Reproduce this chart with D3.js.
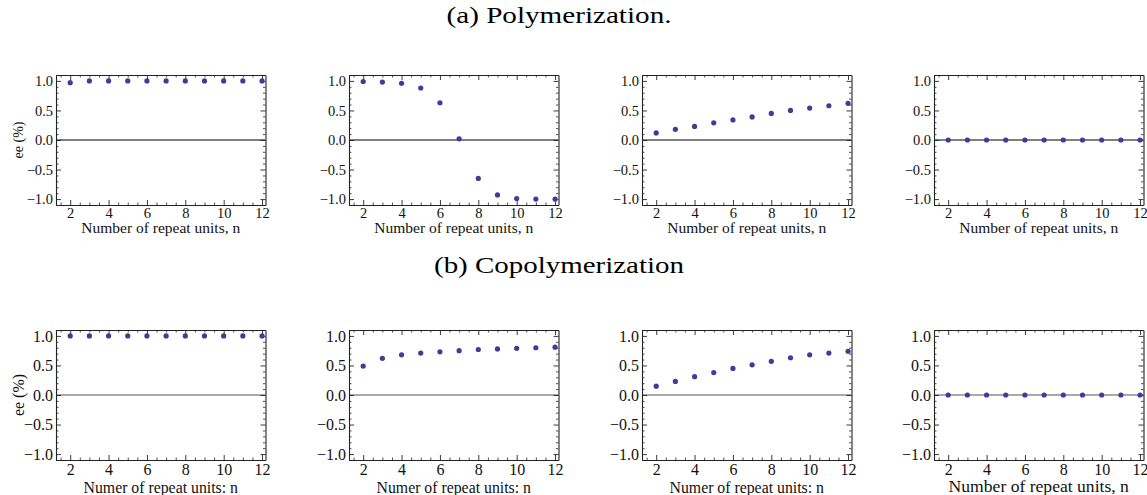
<!DOCTYPE html>
<html>
<head>
<meta charset="utf-8">
<script src="https://cdn.jsdelivr.net/npm/d3@7"></script>
<style>
  html, body { margin: 0; padding: 0; background: #fff; }
  svg { display: block; }
</style>
</head>
<body>
<div id="chart"></div>
<script>
// --- data ---
const repeatUnits = [2, 3, 4, 5, 6, 7, 8, 9, 10, 11, 12];

const polyA = [0.97, 1.0, 1.0, 1.0, 1.0, 1.0, 1.0, 1.0, 1.0, 1.0, 1.0];
const polyB = [0.99, 0.98, 0.96, 0.88, 0.63, 0.02, -0.65, -0.93, -0.99, -1.0, -1.0];
const polyC = [0.12, 0.18, 0.23, 0.29, 0.34, 0.39, 0.45, 0.50, 0.54, 0.58, 0.62];
const polyD = [0, 0, 0, 0, 0, 0, 0, 0, 0, 0, 0];

const copolyA = [1.0, 1.0, 1.0, 1.0, 1.0, 1.0, 1.0, 1.0, 1.0, 1.0, 1.0];
const copolyB = [0.49, 0.62, 0.68, 0.71, 0.73, 0.75, 0.77, 0.78, 0.79, 0.80, 0.81];
const copolyC = [0.15, 0.23, 0.31, 0.38, 0.45, 0.51, 0.57, 0.63, 0.68, 0.71, 0.74];
const copolyD = [0, 0, 0, 0, 0, 0, 0, 0, 0, 0, 0];

const rowTitles = ["(a) Polymerization.", "(b) Copolymerization"];
const xLabelsTop = ["Number of repeat units, n", "Number of repeat units, n",
                    "Number of repeat units, n", "Number of repeat units, n"];
const xLabelsBottom = ["Numer of repeat units: n", "Numer of repeat units: n",
                       "Numer of repeat units: n", "Number of repeat units, n"];
const yLabel = "ee (%)";
const xMajorTicks = [2, 4, 6, 8, 10, 12];
const yMajorTicks = [-1, -0.5, 0, 0.5, 1];

// --- layout ---
const W = 1147, H = 495;
const panelLefts = [56, 349, 642, 934];
const panelW = 209.5, panelH = 130;
const rows = [
  { top: 75, title: rowTitles[0], titleY: 15, series: [polyA, polyB, polyC, polyD],
    xLabels: xLabelsTop, tickFont: 14.5, labelFonts: [15.5, 15.5, 15.5, 15.5], labelDy: [22, 22, 22, 22], xPad: 3,
    zeroColor: "#000", titleLen: 225 },
  { top: 330, title: rowTitles[1], titleY: 265, series: [copolyA, copolyB, copolyC, copolyD],
    xLabels: xLabelsBottom, tickFont: 16, labelFonts: [15.8, 15.8, 15.8, 17.6], labelDy: [27, 27, 27, 25.5], xPad: 4,
    zeroColor: "#555", titleLen: 250 }
];
const dotColor = "#3d3d99";
const serif = "'Liberation Serif', 'Times New Roman', Times, serif";

const svg = d3.select("#chart").append("svg")
  .attr("width", W).attr("height", H)
  .attr("viewBox", [0, 0, W, H]);

const fmt = d => (d < 0 ? "\u2212" : "") + Math.abs(d).toFixed(1);

// minor tick positions
const xMinor = d3.range(1.5, 12.01, 0.5).filter(v => !xMajorTicks.includes(v));
const yMinor = d3.range(-11, 12).map(v => v / 10).filter(v => !yMajorTicks.some(m => Math.abs(m - v) < 1e-6));

rows.forEach((row, ri) => {
  // row caption
  svg.append("text")
    .attr("x", 559).attr("y", row.titleY)
    .attr("text-anchor", "middle")
    .attr("dominant-baseline", "central")
    .attr("textLength", row.titleLen)
    .attr("lengthAdjust", "spacingAndGlyphs")
    .style("font-family", serif)
    .style("font-size", "23px")
    .style("fill", "#000")
    .text(row.title);

  row.series.forEach((values, pi) => {
    const x0 = panelLefts[pi], y0 = row.top;
    const x = d3.scaleLinear().domain([1.26, 12.18]).range([x0, x0 + panelW]);
    const y = d3.scaleLinear().domain([-1.1, 1.1]).range([y0 + panelH, y0]);
    const g = svg.append("g");

    // zero axis line
    g.append("line")
      .attr("x1", x0).attr("x2", x0 + panelW)
      .attr("y1", y(0)).attr("y2", y(0))
      .attr("stroke", row.zeroColor).attr("stroke-width", 1.2);

    // frame axes: ticks inward, labels bottom/left only
    const major = 5, minor = 2.5;
    const axes = [
      { axis: d3.axisBottom(x), t: `translate(0,${y0 + panelH})`, labels: true, horiz: true },
      { axis: d3.axisTop(x), t: `translate(0,${y0})`, labels: false, horiz: true },
      { axis: d3.axisLeft(y), t: `translate(${x0},0)`, labels: true, horiz: false },
      { axis: d3.axisRight(y), t: `translate(${x0 + panelW},0)`, labels: false, horiz: false }
    ];
    axes.forEach(a => {
      const majorVals = a.horiz ? xMajorTicks : yMajorTicks;
      const minorVals = a.horiz ? xMinor : yMinor;
      // minor ticks
      g.append("g").attr("transform", a.t)
        .call(a.axis.tickValues(minorVals).tickSize(-minor).tickFormat(""))
        .call(s => s.select(".domain").remove())
        .call(s => s.selectAll("line").attr("stroke", "#222").attr("stroke-width", 0.8));
      // major ticks + domain
      const ax = g.append("g").attr("transform", a.t)
        .call(a.axis.tickValues(majorVals).tickSizeInner(-major).tickSizeOuter(0)
          .tickPadding(a.horiz ? row.xPad : 3)
          .tickFormat(a.labels ? (a.horiz ? d3.format("d") : fmt) : ""));
      ax.select(".domain").attr("stroke", "#222").attr("stroke-width", 1.1);
      ax.selectAll("line").attr("stroke", "#222").attr("stroke-width", 0.9);
      ax.selectAll("text")
        .style("font-family", serif)
        .style("font-size", row.tickFont + "px")
        .style("fill", "#111");
    });

    // points
    g.selectAll("circle")
      .data(repeatUnits.map((n, i) => ({ n, v: values[i] })))
      .join("circle")
      .attr("cx", d => x(d.n))
      .attr("cy", d => y(d.v))
      .attr("r", 2.6)
      .attr("fill", dotColor);

    // x axis label
    g.append("text")
      .attr("x", x0 + panelW / 2)
      .attr("y", y0 + panelH + row.labelDy[pi])
      .attr("text-anchor", "middle")
      .attr("dominant-baseline", "central")
      .style("font-family", serif)
      .style("font-size", row.labelFonts[pi] + "px")
      .style("fill", "#111")
      .text(row.xLabels[pi]);

    // y axis label on the first panel
    if (pi === 0) {
      g.append("text")
        .attr("transform", `translate(${x0 - 38},${y(0)}) rotate(-90)`)
        .attr("text-anchor", "middle")
        .attr("dominant-baseline", "central")
        .style("font-family", serif)
        .style("font-size", (ri === 0 ? 14 : 16) + "px")
        .style("fill", "#111")
        .text(yLabel);
    }
  });
});
</script>
</body>
</html>
